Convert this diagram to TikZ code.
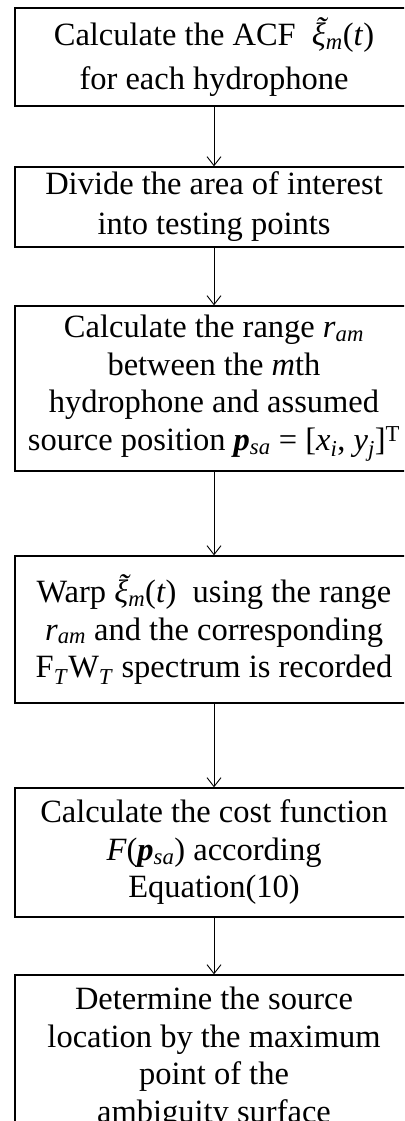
\documentclass[tikz,border=0pt]{standalone}
\usepackage{fontspec}
\setmainfont{Liberation Serif}
\usetikzlibrary{arrows.meta}
\newcommand\sbi[1]{\textsubscript{\textit{#1}}}
\newcommand\xt{{\itshape\setbox0\hbox{ξ}\rlap{ξ}\hbox to \wd0{\hss\kern0.12em\raisebox{0.2em}{\char"02DC}\hss}}}
\tikzset{
  box/.style={draw=black, line width=1.3pt, minimum width=398pt, align=center, inner sep=0pt,
    font=\fontsize{32.5}{37.5}\selectfont},
  arr/.style={draw=black, line width=0.9pt, -{Straight Barb[length=9pt,width=14pt,line width=0.9pt]}}
}
\begin{document}
\begin{tikzpicture}[x=1pt,y=1pt]
\clip (0,0) rectangle (404,-1121);
\fill[white] (0,0) rectangle (404,-1121);
\node[box, minimum height=98pt] (b1) at (214,-57)
  {Calculate the ACF\ \ \xt\sbi{m}(\textit{t})\\[6pt]for each hydrophone};
\node[box, minimum height=80pt] (b2) at (214,-207)
  {Divide the area of interest\\[2.5pt]into testing points};
\node[box, minimum height=165pt] (b3) at (214,-388.5)
  {Calculate the range \textit{r}\sbi{am}\\between the \textit{m}th\\hydrophone and assumed\\source position \textbf{\textit{p}}\sbi{sa} = [\textit{x}\sbi{i}, \textit{y}\sbi{j}]\textsuperscript{T}};
\node[box, minimum height=147pt] (b4) at (214,-629.5)
  {Warp \xt\sbi{m}(\textit{t})\ \ using the range\\\textit{r}\sbi{am} and the corresponding\\F\sbi{T}W\sbi{T} spectrum is recorded};
\node[box, minimum height=129pt] (b5) at (214,-852.5)
  {Calculate the cost function\\\textit{F}(\textbf{\textit{p}}\sbi{sa}) according\\Equation(10)};
\node[box, minimum height=166pt] (b6) at (214,-1058)
  {Determine the source\\location by the maximum\\point of the\\ambiguity surface};
\draw[arr] (b1) -- (b2);
\draw[arr] (b2) -- (b3);
\draw[arr] (b3) -- (b4);
\draw[arr] (b4) -- (b5);
\draw[arr] (b5) -- (b6);
\end{tikzpicture}
\end{document}
